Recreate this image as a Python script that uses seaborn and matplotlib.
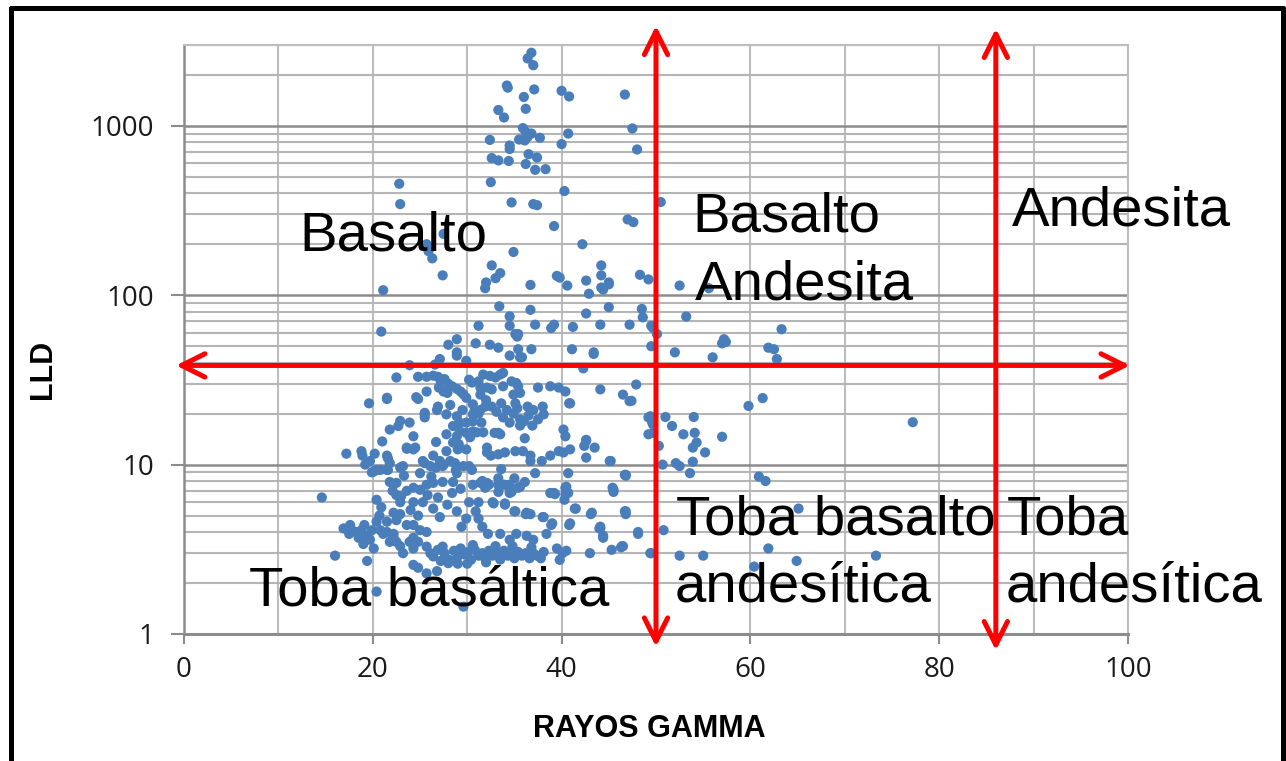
import matplotlib
matplotlib.use("Agg")
import matplotlib.pyplot as plt
from matplotlib.lines import Line2D
from matplotlib.ticker import FixedLocator, NullFormatter, LogLocator
import numpy as np
import pandas as pd
import seaborn as sns

# ---- well-log readings: (gamma ray, LLD) grouped by resistivity band ----
high_lld = [
    (36.8, 2700), (36.4, 2500), (37.0, 2280), (34.2, 1730), (34.3, 1680), (37.1, 1640),
    (36.0, 1480), (36.2, 1260), (33.3, 1240), (33.9, 1120), (40.0, 1610), (40.8, 1490),
    (46.7, 1530), (47.5, 965), (48.0, 725), (35.9, 970), (36.2, 920), (35.5, 830),
    (36.1, 820), (36.4, 860), (36.8, 900), (32.4, 826), (37.7, 850), (40.7, 900),
    (40.0, 780), (34.5, 765), (34.5, 730), (36.5, 680), (37.4, 650), (32.6, 645),
    (33.3, 625), (34.4, 620), (36.2, 595), (37.2, 550), (38.3, 555), (32.5, 465),
    (22.8, 455), (22.9, 345), (34.7, 353), (37.0, 345), (37.4, 340), (40.3, 412),
    (39.2, 256), (47.0, 280), (47.6, 270), (42.2, 200), (34.9, 180), (25.7, 200),
    (25.9, 182), (26.3, 165), (27.5, 230), (27.4, 131), (32.6, 150), (33.5, 135),
    (33.0, 126), (32.0, 119), (31.9, 110), (36.7, 115), (39.5, 130), (39.8, 127),
    (40.6, 114), (42.6, 122), (44.2, 150), (44.2, 131), (45.0, 119), (44.2, 111),
    (42.9, 102), (48.3, 132), (49.2, 124), (50.5, 355), (21.1, 107), (52.5, 114),
    (55.6, 110), (45.0, 116), (44.4, 108),
]

mid_lld = [
    (33.4, 86), (36.7, 82), (34.5, 75), (34.5, 66), (31.2, 66), (37.2, 67), (39.2, 67),
    (38.9, 64), (41.2, 65), (42.6, 78), (45.0, 85), (44.1, 67), (47.2, 67), (48.5, 83),
    (48.6, 74), (49.5, 66), (35.1, 59), (35.4, 59), (35.3, 57), (30.9, 52), (32.4, 51),
    (33.3, 49), (35.4, 48), (36.8, 48), (41.1, 48), (43.4, 46), (34.5, 44), (35.6, 43),
    (28.0, 51), (28.9, 55), (28.9, 46), (27.1, 42), (49.5, 50), (20.9, 61), (23.9, 38.6),
    (26.6, 39), (28.9, 44), (29.9, 41), (53.2, 74.8), (50.1, 59), (49.7, 64), (52.0, 46),
    (56.0, 43), (57.2, 55), (57.4, 53), (57.0, 52), (61.9, 49), (62.5, 48), (63.3, 63),
    (62.8, 42), (43.4, 45), (35.8, 43),
]

low_lld = [
    (22.5, 32.7), (24.8, 33.0), (25.7, 33.0), (26.4, 33.5), (26.9, 33.0), (27.2, 31.0),
    (27.6, 32.0), (28.0, 30.0), (28.4, 29.0), (28.9, 28.0), (29.3, 27.0), (29.6, 26.0),
    (27.0, 28.5), (27.5, 27.0), (27.9, 26.5), (30.2, 31.7), (31.7, 34.0), (30.5, 30.5),
    (31.2, 31.0), (32.4, 33.4), (33.0, 32.7), (33.5, 34.0), (33.8, 34.8), (31.4, 28.5),
    (32.1, 28.5), (32.6, 27.8), (33.8, 29.0), (34.7, 31.0), (35.2, 30.3), (35.4, 29.0),
    (35.6, 26.5), (34.9, 25.9), (35.1, 23.0), (37.5, 28.5), (38.8, 29.0), (39.7, 28.5),
    (40.4, 27.0), (40.8, 23.0), (44.1, 27.8), (46.5, 25.9), (47.4, 23.8), (47.9, 29.7),
    (42.3, 37.0), (19.6, 23.0), (21.5, 24.8), (24.6, 25.0), (25.7, 27.0), (26.9, 22.0),
    (27.8, 19.8), (28.9, 19.3), (25.5, 20.2), (25.5, 19.0), (29.2, 17.7), (29.9, 15.4),
    (30.6, 15.7), (27.8, 15.1), (28.9, 14.7), (29.1, 13.2), (22.9, 18.1), (22.7, 16.9),
    (21.8, 16.1), (23.9, 17.7), (24.3, 14.7), (21.0, 13.7), (23.6, 12.4), (24.3, 12.3),
    (17.2, 11.6), (18.8, 12.0), (20.2, 11.6), (21.5, 11.3), (28.5, 13.5), (30.3, 14.5),
    (31.0, 15.5), (31.7, 15.5), (30.6, 18.0), (31.2, 20.0), (31.9, 22.0), (30.8, 21.0),
    (31.5, 17.7), (29.9, 24.8), (30.6, 22.7), (31.4, 25.9), (31.4, 21.0), (32.0, 24.0),
    (32.6, 22.0), (33.1, 20.5), (33.6, 23.0), (34.2, 21.0), (34.9, 20.0), (35.3, 21.5),
    (35.6, 18.5), (36.0, 18.0), (36.5, 19.5), (36.9, 17.0), (35.6, 17.0), (36.4, 22.0),
    (38.1, 19.8), (33.3, 15.4), (33.5, 15.1), (36.1, 14.3), (40.2, 16.1), (40.4, 14.7),
    (32.1, 12.6), (32.1, 11.8), (33.3, 11.5), (34.0, 11.8), (35.1, 12.0), (35.9, 12.0),
    (36.7, 11.3), (36.7, 10.5), (37.9, 10.5), (38.8, 11.3), (39.7, 12.0), (40.2, 11.8),
    (40.9, 12.3), (42.6, 14.0), (42.4, 12.9), (43.5, 12.6), (42.6, 11.0), (45.1, 10.5),
    (49.2, 19.0), (49.2, 15.1), (49.7, 17.2), (49.4, 19.3), (49.6, 17.7), (51.0, 19.1),
    (51.7, 16.9), (52.9, 15.1), (54.0, 19.1), (54.1, 15.4), (54.3, 13.5), (53.9, 12.6),
    (55.2, 11.8), (57.0, 14.6), (50.3, 12.9), (77.2, 17.8), (59.8, 22.2), (61.3, 24.7),
    (47.2, 23.7), (40.9, 23.0), (18.9, 11.3), (21.6, 10.9), (23.6, 12.6), (24.5, 12.6),
    (28.5, 16.9), (29.2, 15.8), (29.9, 17.7), (30.6, 19.8), (32.9, 15.4), (42.6, 13.8),
    (49.7, 15.4), (45.2, 10.5), (50.7, 10.0), (52.1, 10.2), (53.9, 10.4), (27.8, 12.0),
    (29.0, 12.3), (29.9, 12.3), (26.4, 11.3), (27.1, 10.5), (25.3, 10.5), (24.8, 24.4),
    (21.5, 24.4), (25.5, 19.8), (26.8, 21.0), (28.2, 22.5), (29.5, 21.0), (33.8, 19.0),
    (34.5, 17.7), (37.0, 21.0), (37.5, 18.5), (38.0, 22.0), (32.5, 11.3), (26.7, 13.6),
]

tuff_lld = [
    (19.2, 10.0), (19.9, 9.0), (20.4, 9.3), (21.8, 10.2), (21.5, 9.3), (23.2, 9.8),
    (26.1, 9.8), (27.5, 10.0), (28.7, 10.2), (28.9, 8.9), (29.6, 9.8), (20.1, 9.1),
    (19.7, 10.5), (20.8, 9.3), (21.6, 9.3), (22.9, 9.6), (25.5, 10.2), (26.7, 9.6),
    (27.4, 9.8), (30.2, 9.8), (30.5, 9.3), (28.8, 9.3), (28.2, 10.5), (14.6, 6.4),
    (16.9, 4.2), (17.6, 4.4), (17.8, 4.1), (18.8, 4.1), (19.4, 3.8), (19.9, 4.1),
    (19.7, 3.6), (20.1, 3.2), (19.0, 3.4), (20.4, 6.2), (20.9, 5.6), (20.7, 5.0),
    (20.4, 4.6), (21.5, 4.6), (21.1, 3.9), (21.8, 7.9), (22.5, 7.8), (22.1, 7.0),
    (22.5, 6.6), (22.9, 6.0), (23.6, 7.0), (24.3, 7.3), (25.0, 7.1), (25.7, 7.6),
    (26.4, 7.8), (27.4, 7.9), (28.5, 7.9), (22.2, 5.2), (22.5, 4.7), (22.9, 5.1),
    (23.6, 4.4), (24.3, 4.4), (24.3, 3.7), (23.9, 3.5), (25.0, 4.1), (25.7, 4.0),
    (22.2, 3.7), (21.8, 3.5), (24.3, 6.0), (25.3, 6.0), (26.4, 5.5), (27.1, 4.9),
    (28.9, 5.3), (29.4, 4.3), (29.9, 4.8), (30.2, 6.0), (30.9, 5.3), (31.2, 6.0),
    (31.2, 4.8), (31.6, 4.3), (32.2, 3.9), (31.9, 7.3), (31.6, 8.0), (32.3, 7.6),
    (32.7, 6.0), (34.0, 5.8), (35.0, 5.3), (36.2, 5.1), (38.0, 4.9), (38.9, 4.4),
    (40.8, 4.4), (41.5, 5.5), (43.1, 5.1), (44.0, 4.2), (44.4, 3.8), (45.4, 7.3),
    (46.8, 8.6), (46.8, 5.1), (48.1, 4.0), (38.8, 6.8), (39.2, 6.8), (40.5, 7.4),
    (40.7, 6.8), (40.3, 6.2), (36.1, 7.9), (35.4, 7.3), (34.7, 6.9), (34.0, 7.6),
    (33.3, 8.3), (35.0, 8.3), (16.0, 2.9), (19.4, 2.7), (20.4, 1.78), (24.3, 2.56),
    (24.8, 2.46), (25.7, 2.28), (26.8, 2.35), (29.6, 1.45), (18.2, 4.0), (18.5, 3.7),
    (19.1, 4.4), (17.5, 3.9), (23.0, 6.5), (24.0, 5.4), (24.8, 5.0), (25.8, 6.6),
    (26.9, 6.4), (27.9, 5.8), (28.4, 6.8), (29.3, 7.2), (30.6, 7.6), (23.3, 8.6),
    (25.0, 8.9), (26.2, 8.5),
    (39.5, 3.2), (40.1, 3.0), (40.5, 3.1), (39.8, 2.74), (43.0, 3.0), (45.3, 3.14),
    (46.5, 3.3), (37.0, 3.6), (38.4, 3.9), (36.3, 3.8), (33.5, 3.9), (34.5, 3.6),
    (35.2, 3.9), (20.8, 4.1), (21.5, 4.0), (22.2, 3.9), (22.5, 3.5), (22.9, 3.3),
    (23.2, 3.0), (24.3, 3.2), (24.8, 3.5), (33.6, 9.4), (37.2, 8.9), (40.7, 8.9),
    (46.7, 8.7), (31.4, 7.8), (32.1, 7.8), (33.3, 7.6), (33.8, 7.6), (34.5, 7.6),
    (35.6, 7.4), (33.3, 6.9), (34.5, 6.8), (39.3, 6.7), (40.4, 7.3), (40.4, 6.7),
    (45.5, 6.9), (32.8, 5.9), (34.0, 5.9), (35.1, 5.3), (36.3, 5.2), (36.7, 5.1),
    (38.1, 4.9), (41.4, 5.5), (43.2, 5.2), (46.7, 5.3), (39.0, 4.5), (40.9, 4.5),
    (44.1, 4.2), (44.4, 3.7), (46.3, 3.25), (49.5, 3.0), (60.9, 8.5), (61.6, 8.0),
    (45.5, 7.1), (46.8, 5.3), (44.1, 4.3), (46.4, 3.3), (48.1, 3.9), (50.8, 4.1),
    (49.4, 3.0), (52.5, 2.9), (55.0, 2.9), (61.9, 3.2), (65.1, 5.5), (64.9, 2.7),
    (73.3, 2.9), (60.4, 2.5), (53.6, 8.9), (52.5, 9.8), (46.8, 8.7),
]

# the dense band of low-resistivity tuffs near LLD = 3
tuff_band = [
    (25.7, 3.28), (26.1, 3.0), (26.4, 2.87), (26.9, 3.14), (27.4, 3.28), (27.6, 3.0),
    (28.1, 2.74), (28.6, 3.1), (29.0, 2.87), (29.3, 3.2), (29.7, 2.95), (30.1, 3.05),
    (30.4, 2.74), (30.8, 3.14), (31.2, 2.9), (31.6, 3.0), (31.9, 2.8), (32.3, 3.1),
    (32.7, 2.9), (33.1, 3.0), (33.5, 2.75), (33.9, 3.1), (34.3, 2.9), (34.7, 3.0),
    (35.0, 2.8), (35.4, 3.05), (35.8, 2.9), (36.2, 3.0), (36.6, 2.8), (37.0, 3.0),
    (37.4, 2.9), (37.8, 2.8), (38.1, 3.05), (28.0, 2.62), (29.0, 2.6), (30.0, 2.6),
    (27.2, 2.7), (32.0, 2.65), (33.0, 3.3), (34.8, 3.3), (36.8, 3.25), (30.6, 3.35),
]

# classification limits
gr_limits = [50, 86]
lld_limit = 38.5

x_ticks = [0, 20, 40, 60, 80, 100]
x_tick_labels = ["0", "20", "40", "60", "80", "100"]
y_ticks = [1, 10, 100, 1000]
y_tick_labels = ["1", "10", "100", "1000"]

groups = [high_lld, mid_lld, low_lld, tuff_lld, tuff_band]
records = [pt for g in groups for pt in g]
df = pd.DataFrame(records, columns=["gamma", "lld"])

# ---- styling ----
sns.set_theme(style="white")
plt.rcParams["font.family"] = ["Liberation Sans", "DejaVu Sans"]

W, H = 1286, 761
fig = plt.figure(figsize=(W / 100, H / 100), dpi=100)
fig.patch.set_facecolor("white")
ax = fig.add_axes([184 / W, 1 - 634 / H, 944 / W, 589 / H])

sns.scatterplot(data=df, x="gamma", y="lld", ax=ax, color="#4a7ebb",
                s=54, edgecolor="none", linewidth=0, zorder=3)

ax.set_yscale("log")
ax.set_xlim(0, 100)
ax.set_ylim(1, 3000)

# grid: every 10 on x, every log sub-division on y
ax.xaxis.set_major_locator(FixedLocator(x_ticks))
ax.xaxis.set_minor_locator(FixedLocator([10, 30, 50, 70, 90]))
ax.set_xticklabels(x_tick_labels)
ax.yaxis.set_major_locator(FixedLocator(y_ticks))
ax.yaxis.set_minor_locator(LogLocator(base=10, subs=np.arange(2, 10), numticks=20))
ax.yaxis.set_minor_formatter(NullFormatter())
ax.set_yticklabels(y_tick_labels)

ax.grid(True, which="major", axis="x", color="#bdbdbd", lw=1.5, zorder=0)
ax.grid(True, which="minor", axis="x", color="#bdbdbd", lw=1.5, zorder=0)
ax.grid(True, which="major", axis="y", color="#8c8c8c", lw=1.8, zorder=0)
ax.grid(True, which="minor", axis="y", color="#b5b5b5", lw=1.5, zorder=0)
ax.set_axisbelow(True)

for side in ["top", "right"]:
    ax.spines[side].set_color("#bdbdbd")
    ax.spines[side].set_linewidth(1.5)
ax.spines["left"].set_color("#8c8c8c")
ax.spines["left"].set_linewidth(1.8)
ax.spines["bottom"].set_color("#8c8c8c")
ax.spines["bottom"].set_linewidth(2.2)

tick_font = dict(family=["Open Sans", "DejaVu Sans"], size=20, color="#1a1a1a")
ax.tick_params(axis="x", which="major", direction="out", length=7, width=1.5,
               color="#8c8c8c", pad=9, bottom=True)
ax.tick_params(axis="y", which="major", direction="out", length=9.5, width=1.5,
               color="#8c8c8c", pad=12, left=True)
ax.tick_params(which="minor", length=0)
for lbl in ax.get_xticklabels() + ax.get_yticklabels():
    lbl.set_fontfamily(tick_font["family"])
    lbl.set_fontsize(tick_font["size"])
    lbl.set_color(tick_font["color"])

ax.set_xlabel("RAYOS GAMMA", fontsize=22, fontweight="bold", color="black")
ax.xaxis.set_label_coords(0.493, -0.135)
ax.set_ylabel("LLD", fontsize=22, fontweight="bold", color="black")
ax.yaxis.set_label_coords(-0.1335, 0.45)

# ---- zone boundaries as double-headed arrows ----
arrow_kw = dict(arrowstyle="<->", color="#ff0000", lw=3.6, mutation_scale=42,
                shrinkA=0, shrinkB=0)
ax.annotate("", xy=(gr_limits[0], 0.84), xytext=(gr_limits[0], 3900),
            arrowprops=arrow_kw, annotation_clip=False, zorder=5)
ax.annotate("", xy=(gr_limits[1], 0.80), xytext=(gr_limits[1], 3750),
            arrowprops=arrow_kw, annotation_clip=False, zorder=5)
ax.annotate("", xy=(-0.85, lld_limit), xytext=(100.2, lld_limit),
            arrowprops=arrow_kw, annotation_clip=False, zorder=5)

# ---- zone labels ----
zone_kw = dict(fontsize=40.6, color="black", ha="left", va="baseline", zorder=6)
ax.text(12.2, 183, "Basalto", **zone_kw)
ax.text(53.9, 239, "Basalto", **zone_kw)
ax.text(54.1, 94, "Andesita", **zone_kw)
ax.text(87.7, 259, "Andesita", **zone_kw)
ax.text(6.9, 1.48, "Toba basáltica", **zone_kw)
ax.text(52.1, 3.85, "Toba basalto", **zone_kw)
ax.text(52.0, 1.55, "andesítica", **zone_kw)
ax.text(87.2, 3.85, "Toba", **zone_kw)
ax.text(87.0, 1.55, "andesítica", **zone_kw)

# ---- frame around the figure ----
frame_kw = dict(color="black", lw=3.6, transform=fig.transFigure, zorder=10)
fig.add_artist(Line2D([10.5 / W, 10.5 / W], [0, 1 - 7.5 / H], **frame_kw))
fig.add_artist(Line2D([10.5 / W, 1283 / W], [1 - 7.5 / H, 1 - 7.5 / H], **frame_kw))
fig.add_artist(Line2D([1283 / W, 1283 / W], [0, 1 - 7.5 / H], **frame_kw))

fig.savefig("out.png", dpi=100, facecolor="white")
